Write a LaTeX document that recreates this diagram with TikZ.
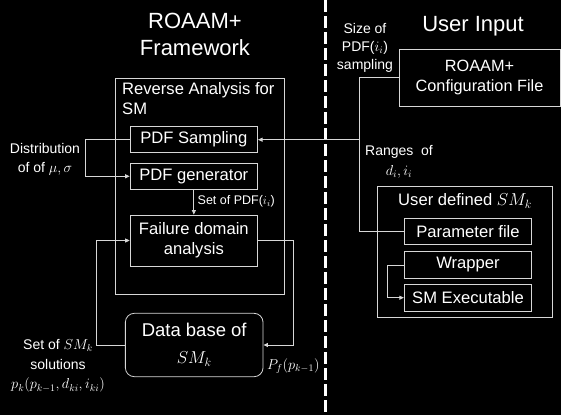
\documentclass[tikz,border=0pt]{standalone}
\usepackage{fontspec}
\setmainfont{Liberation Sans}
\usetikzlibrary{arrows.meta,positioning,calc}
\definecolor{ln}{RGB}{215,215,215}
\tikzset{
  every node/.style={text=white},
  boxn/.style={draw=ln, line width=0.8pt, minimum width=127.5pt, minimum height=26pt, inner sep=0pt, font=\fontsize{16.6}{20}\selectfont, align=center},
  conn/.style={draw=ln, line width=0.8pt},
  arr/.style={conn, -{Triangle[length=4.5pt,width=4pt]}},
  lbl/.style={font=\fontsize{14}{19}\selectfont, align=center, inner sep=0pt},
  ttl/.style={font=\fontsize{22}{27}\selectfont, align=center, inner sep=0pt}
}
\begin{document}
\begin{tikzpicture}[x=1pt,y=-1pt]
\fill[black] (0,0) rectangle (561,415);
\useasboundingbox (0,0) rectangle (561,415);
% titles
\node[ttl] (titleL) at (195,34) {ROAAM+\\Framework};
\node[ttl] (titleR) at (473,26) {User Input};
% dashed separator
\coordinate (dtop) at (325.4,0);
\coordinate (dbot) at (325.4,415);
\draw[white, line width=3pt, dash pattern=on 12pt off 4pt] (dtop) -- (dbot);
% left outer box
\node[draw=ln, line width=0.8pt, minimum width=169pt, minimum height=216pt, inner sep=0pt] (ra) at (199.5,186) {};
\node[font=\fontsize{16.6}{20}\selectfont, align=left, anchor=north west, inner sep=0pt] (ratitle) at (122,82) {Reverse Analysis for\\SM};
% inner boxes
\node[boxn] (samp) at (193.85,139.7) {PDF Sampling};
\node[boxn] (gen) at (193.85,176.3) {PDF generator};
\node[boxn, minimum height=51pt] (fail) at (193.85,240.5) {Failure domain\\analysis};
\node[boxn, minimum width=137.7pt, minimum height=63.4pt, rounded corners=9pt, font=\fontsize{18.5}{27}\selectfont] (db) at (194.2,345) {Data base of\\$SM_k$};
% right side
\node[boxn, minimum width=161pt, minimum height=56.7pt, font=\fontsize{16.3}{20}\selectfont] (config) at (479.5,77.7) {ROAAM+\\Configuration File};
\node[draw=ln, line width=0.8pt, minimum width=175.3pt, minimum height=131.3pt, inner sep=0pt] (user) at (464.7,251.7) {};
\node[font=\fontsize{16.6}{20}\selectfont, inner sep=0pt] (usertitle) at (465,201) {User defined $SM_k$};
\node[boxn] (param) at (468,231.3) {Parameter file};
\node[boxn, minimum height=26.6pt] (wrap) at (468,265) {Wrapper};
\node[boxn, minimum height=26.6pt] (smexe) at (468,297.7) {SM Executable};
% connectors
\draw[arr] (samp.west) -- ++(-44.3,0) |- (gen.west);
\draw[arr] (gen.south) -- (fail.north);
\coordinate (J) at (359,139.7);
\draw[conn] (config.west) -| (J);
\draw[conn] (param.west) -| (J);
\draw[arr] (J) -- (samp.east);
\draw[arr] (wrap.west) -- ++(-16.6,0) |- (smexe.west);
\draw[arr] (db.west) -- ++(-28.6,0) |- (fail.west);
\draw[arr] (fail.east) -- ++(35.6,0) |- (db.east);
% labels
\node[lbl] (ldist) at (45,159.5) {Distribution\\of of $\mu,\sigma$};
\node[lbl, font=\fontsize{12.5}{15}\selectfont, anchor=west] (lset) at (197.5,201) {Set of PDF($i_i$)};
\node[lbl, font=\fontsize{14}{18}\selectfont] (lsize) at (365,48) {Size of\\PDF($i_i$)\\sampling};
\node[lbl, font=\fontsize{14}{20}\selectfont] (lrange) at (399,161.7) {Ranges\ \ of\\$d_i,i_i$};
\node[lbl, font=\fontsize{14}{19.6}\selectfont] (lsol) at (58,366) {Set of $SM_k$\\solutions\\$p_k(p_{k-1},d_{ki},i_{ki})$};
\node[lbl] (lpf) at (293.3,365.7) {$P_f(p_{k-1})$};
\end{tikzpicture}
\end{document}
